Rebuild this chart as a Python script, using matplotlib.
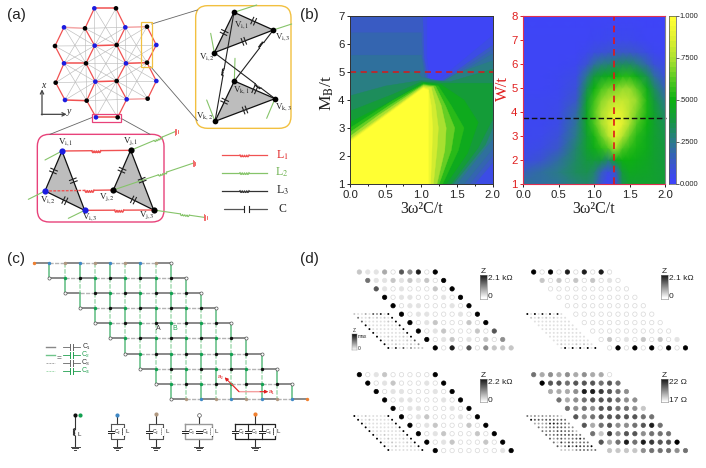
import numpy as np
import matplotlib
matplotlib.use("Agg")
import matplotlib.pyplot as plt
from matplotlib.colors import LinearSegmentedColormap
from matplotlib.patches import FancyBboxPatch, Polygon, Rectangle

plt.rcParams['font.family'] = ['Liberation Sans', 'DejaVu Sans']
plt.rcParams['mathtext.fontset'] = 'stix'
SERIF = 'Liberation Serif'

# ---------- panel (b) data ----------
# left map: region at or above each level, outlines
left_base = 0.01
left_levels = [
 (.05, [(0,1),(2,1),(2,6.3),(1.25,4.72),(1.12,4.72),(1.08,5.5),(1.08,7),(0,7)]),
 (.13, [(0,1),(1.75,1),(2,1.75),(2,5.95),(1.3,4.7),(1.1,4.7),(1.04,5.5),(1.02,7),(0,7)]),
 (.17, [(0,1),(1.68,1),(2,2.0),(2,5.8),(1.33,4.69),(1.08,4.7),(1.02,5.5),(1.0,6.4),(0,6.4)]),
 (.21, [(0,1),(1.6,1),(2,2.25),(2,5.65),(1.35,4.68),(1.06,4.7),(1,5.6),(0,5.6)]),
 (.26, [(0,1),(1.5,1),(2,2.6),(2,5.4),(1.5,4.95),(1.3,4.65),(1.0,4.82),(.95,5),(0,5)]),
 (.33, [(0,1),(1.45,1),(1.9,2.4),(2,3.0),(2,5.1),(1.4,4.65),(1,4.7),(.5,4.5),(0,4.15)]),
 (.40, [(0,1),(1.42,1),(1.8,2.3),(2,3.3),(2,4.6),(1.3,4.6),(1,4.65),(.6,4.2),(0,3.6)]),
 (.47, [(0,1),(1.35,1),(1.65,2.1),(1.8,3.2),(1.6,4.0),(1.28,4.55),(1.03,4.62),(.5,3.85),(0,3.2)]),
 (.55, [(0,1),(1.3,1),(1.52,2.2),(1.6,3.0),(1.42,3.8),(1.24,4.5),(1.03,4.58),(.6,3.98),(0,3.0)]),
 (.65, [(0,1),(1.25,1),(1.42,2.2),(1.47,3.0),(1.34,3.8),(1.2,4.5),(1.03,4.55),(.55,3.8),(0,2.85)]),
 (.75, [(0,1),(1.22,1),(1.33,2.2),(1.35,3.0),(1.28,3.8),(1.17,4.48),(1.03,4.52),(.4,3.45),(0,2.7)]),
 (.85, [(0,1),(1.17,1),(1.22,2.2),(1.24,3),(1.2,3.8),(1.14,4.45),(1.03,4.48),(.3,3.15),(0,2.6)]),
 (.93, [(0,1),(1.13,1),(1.15,2.2),(1.16,3),(1.14,3.8),(1.1,4.4),(1.03,4.45),(.3,3.1),(0,2.55)]),
 (1.0, [(0,1),(1.1,1),(1.1,4.35),(1.03,4.42),(0,2.5)]),
]
right_x = [0, .25, .5, .75, .9, 1.0, 1.1, 1.2, 1.3, 1.4, 1.5, 1.6, 1.75, 1.85, 2]
right_y = [1, 1.5, 2, 2.5, 3, 3.5, 4, 4.5, 5, 5.5, 6, 6.5, 7, 8]
right_z = [
 [.22, .2, .22, .28, .3, .25, .1, 0, .08, .35, .42, .42, .42, .42, .4],
 [.15, .2, .25, .33, .35, .3, .15, .05, .12, .4, .46, .45, .44, .42, .4],
 [.05, .1, .2, .32, .38, .4, .38, .3, .45, .5, .5, .48, .45, .42, .38],
 [.03, .05, .12, .3, .42, .48, .55, .62, .75, .62, .56, .52, .47, .42, .38],
 [.02, .03, .08, .25, .42, .52, .65, .78, .9, .78, .65, .55, .47, .42, .36],
 [.02, .02, .05, .22, .45, .6, .74, .85, .95, .88, .75, .62, .5, .42, .34],
 [.02, .02, .04, .18, .45, .62, .75, .83, .9, .87, .78, .68, .52, .42, .3],
 [.02, .02, .03, .12, .42, .58, .7, .76, .8, .82, .78, .72, .52, .38, .24],
 [.01, .01, .02, .08, .34, .5, .6, .66, .68, .72, .72, .64, .47, .32, .16],
 [.01, .01, .02, .05, .24, .38, .44, .48, .5, .54, .54, .48, .34, .2, .08],
 [.01, .01, .01, .02, .1, .2, .26, .28, .3, .32, .32, .27, .17, .08, .04],
 [.01, .01, .01, .01, .03, .06, .08, .1, .12, .12, .12, .1, .05, .02, .01],
 [.01, .01, .01, .01, .01, .02, .02, .03, .03, .03, .03, .02, .01, .01, .01],
 [0, 0, 0, 0, 0, 0, 0, 0, 0, 0, 0, 0, 0, 0, 0],
]
cbar_ticks = [0, .25, .5, .75, 1.0]
cbar_labels = ['0.000', '.2500', '.5000', '.7500', '1.000']
left_yticks = [1, 2, 3, 4, 5, 6, 7]
right_yticks = [1, 2, 3, 4, 5, 6, 7, 8]
xticks_b = [0, .5, 1, 1.5, 2]

# ---------- panel (d) data: darkness 0 (open) .. 9 (black) ----------
d_tl = ["2113064809", "5112121209", "6101000209", "9011000109", "9011000109",
        "9011000109", "9012000209", "9012000206", "9012010204", "9080604222"]
d_tr = ["9090808080", "2020202010", "0000000000", "0000000000", "0000000000",
        "0000000000", "0000000000", "0000000000", "0201020201", "0909090909"]
d_bl = ["9012000009", "9012000109", "9011000109", "9011000109", "9011000109",
        "9012000109", "9012000209", "9012000209", "9012000209", "9000000019"]
d_br = ["5343434330", "9665666565", "3334887654", "5345666544", "5454665542",
        "6456666655", "6356445685", "5274664555", "6358587669", "2222455545"]
d_titles = ["2.1 kΩ", "2.1 kΩ", "2.2 kΩ", "22 Ω"]
d_lows = ["0", "0", "0", "17 Ω"]

# ---------- panel (c) lattice ----------
c_rows = 10
c_cols = 10

# ---------- panel (a) lattice ----------
hx = [283, 348, 255, 376, 192, 284, 350, 165, 192, 258, 378, 441, 441, 469, 167, 195, 260, 286, 350, 380, 443, 469, 288, 353]
hy = [25, 25, 85, 82, 82, 137, 135, 138, 190, 190, 190, 188, 80, 135, 248, 300, 302, 245, 243, 298, 296, 243, 352, 352]
hc = "bkkbbbkkbkbkkbkbkbkbkbbk"
hedges = [(0,1),(0,2),(1,3),(2,4),(3,12),(2,5),(3,6),(5,6),(4,7),(7,8),(8,9),(5,9),(6,10),(10,11),(11,13),
          (12,13),(8,14),(14,15),(15,16),(9,17),(17,18),(10,18),(16,17),(18,19),(19,20),(20,21),(11,21),
          (16,22),(19,23),(22,23)]

fig = plt.figure(figsize=(7.06, 4.68), dpi=100, facecolor='white')
W, H = 706., 468.

def axpx(x0, y0, x1, y1):
    return fig.add_axes([x0 / W, 1 - y1 / H, (x1 - x0) / W, (y1 - y0) / H])

cmap = LinearSegmentedColormap.from_list('bgy', [
    (0, '#3e44f8'), (.12, '#3a58c8'), (.25, '#2a7c88'), (.38, '#15983f'), (.5, '#0cb012'),
    (.62, '#50c820'), (.75, '#a8e030'), (.88, '#e0f030'), (1, '#ffff33')])

# ---- (b) left
a1 = axpx(350, 16, 492.5, 184)
a1.set_facecolor(cmap(left_base))
for level, pts in left_levels:
    lx, ly = zip(*pts)
    a1.fill(lx, ly, color=cmap(level), lw=.3)
a1.axhline(5, color='#d81818', lw=1.1, ls=(0, (4, 3)))
a1.set_xlim(0, 2); a1.set_ylim(1, 7)
a1.set_xticks(xticks_b); a1.set_yticks(left_yticks)
a1.set_xticks([.25, .75, 1.25, 1.75], minor=True)
a1.set_xticklabels(['0.0', '0.5', '1.0', '1.5', '2.0'])
a1.tick_params(labelsize=8.2, length=2.5, width=.7, pad=1.5, colors='#222222')
a1.tick_params(which='minor', length=1.5, width=.6)
a1.set_xlabel('3ω²C/t', family=SERIF, fontsize=11.5, labelpad=1, color='#222222')
a1.set_ylabel(r'M$_{\mathrm{B}}$/t', family=SERIF, fontsize=12.5, color='#222222')
a1.yaxis.set_label_coords(-.1, .54)
for s in a1.spines.values():
    s.set_linewidth(.7); s.set_color('#333333')

# ---- (b) right
a2 = axpx(523, 16, 665, 184)
a2.pcolormesh(right_x, right_y, np.array(right_z), cmap=cmap, vmin=0, vmax=1, shading='gouraud')
a2.axvline(1.285, color='#e01818', lw=1.2, ls=(0, (4, 3)))
a2.plot([0, 2.02], [3.75, 3.75], color='#111111', lw=1, ls=(0, (4, 2)), clip_on=False)
a2.set_xlim(0, 2); a2.set_ylim(1, 8)
a2.set_xticks(xticks_b); a2.set_yticks(right_yticks)
a2.set_xticklabels(['0.0', '0.5', '1.0', '1.5', '2.0'])
a2.tick_params(labelsize=8.2, length=2.5, width=.7, pad=1.5, colors='#e02020')
a2.tick_params(axis='x', labelcolor='#222222', color='#222222')
a2.set_xlabel('3ω²C/t', family=SERIF, fontsize=11.5, labelpad=1, color='#222222')
a2.set_ylabel('W/t', family=SERIF, fontsize=12, color='#e02020')
a2.yaxis.set_label_coords(-.085, .57)
for s in a2.spines.values():
    s.set_linewidth(.8); s.set_color('#e03050')
a2.spines['right'].set_color('#888888')

# ---- colour bar
cb = axpx(668.5, 16, 676, 184)
lev = np.linspace(0, 1, 33)
edges = np.linspace(0, 1, 34)
cb.pcolormesh([0, 1], edges, lev.reshape(-1, 1), cmap=cmap, vmin=0, vmax=1)
cb.set_xlim(0, 1); cb.set_ylim(0, 1)
cb.set_xticks([]); cb.yaxis.tick_right()
cb.set_yticks(cbar_ticks); cb.set_yticklabels(cbar_labels)
cb.tick_params(labelsize=5.4, length=2, width=.5, pad=.5, colors='#222222')
for s in cb.spines.values():
    s.set_linewidth(.5); s.set_color('#555555')

# ---- overlay for schematics
ov = fig.add_axes([0, 0, 1, 1], zorder=-1)
ov.set_xlim(0, W); ov.set_ylim(H, 0); ov.axis('off')

RED, GREEN, BLUE, PINK = '#f05252', '#86c46a', '#1c1ce0', '#e8427a'

def wire(p, q, color, lw=.8, coil=True, frac=.5, n=4, amp=2.0, ls='-', length=9.):
    p, q = np.array(p, float), np.array(q, float)
    d = q - p; L = np.hypot(*d); u = d / L; v = np.array([-u[1], u[0]])
    if not coil:
        ov.plot(*zip(p, q), color=color, lw=lw, ls=ls, solid_capstyle='round')
        return
    c = p + d * frac
    a, b = c - u * length / 2, c + u * length / 2
    ov.plot(*zip(p, a), color=color, lw=lw, ls=ls)
    ov.plot(*zip(b, q), color=color, lw=lw)
    t = np.linspace(0, 1, 40)
    pts = a[None] + np.outer(t * length, u) + np.outer(np.abs(np.sin(t * n * np.pi)) * amp, v)
    ov.plot(pts[:, 0], pts[:, 1], color=color, lw=lw)

def cap(p, q, color='#222222', lw=.8, half=3.5, gap=1.5, frac=.5):
    p, q = np.array(p, float), np.array(q, float)
    d = q - p; u = d / np.hypot(*d); v = np.array([-u[1], u[0]])
    c = p + d * frac
    for s in (-1, 1):
        m = c + s * gap * u
        ov.plot(*zip(m - v * half, m + v * half), color=color, lw=lw)

def ground(x, y, w=4.5, color='#444444', lw=.7):
    for i, f in enumerate((1, .65, .3)):
        ov.plot([x - w * f, x + w * f], [y + i * 1.6] * 2, color=color, lw=lw)

def Z(x, y):            # panel a zoom coordinates
    return (x / 3., y / 3.)

def txt(x, y, s, size=7, color='#222222', family=None, **kw):
    kw.setdefault('ha', 'center'); kw.setdefault('va', 'center')
    ov.text(x, y, s, fontsize=size, color=color, family=family, **kw)

# panel letters
txt(16, 15, '(a)', 11)
txt(309, 15, '(b)', 11)
txt(16, 259, '(c)', 11)
txt(309, 259, '(d)', 11)

# ---- (a) honeycomb
vx, vy = np.array(hx) / 3., np.array(hy) / 3.
for i in range(len(hx)):
    for j in range(i + 1, len(hx)):
        dist = np.hypot(hx[i] - hx[j], hy[i] - hy[j])
        mid = np.hypot((hx[i] + hx[j]) / 2 - 317, (hy[i] + hy[j]) / 2 - 190)
        if 90 < dist < 132 and mid < 130:
            ov.plot([vx[i], vx[j]], [vy[i], vy[j]], color='#bcbcbc', lw=.45, zorder=1)
for i, j in hedges:
    horiz = abs(hy[i] - hy[j]) < 8
    col = '#f4a8a8' if (i, j) in [(3, 12), (2, 4), (19, 20)] else RED
    ov.plot([vx[i], vx[j]], [vy[i], vy[j]], color=col, lw=.9 if not horiz else 1.1, zorder=2)
ov.scatter(vx, vy, s=11, c=[BLUE if c == 'b' else '#000000' for c in hc], zorder=3, linewidths=0)

# selection boxes and leaders
ov.add_patch(Rectangle(Z(424, 67), 31 / 3, 133 / 3, fc='none', ec='#f2c040', lw=.9, zorder=4))
ov.add_patch(Rectangle(Z(275, 342), 88 / 3, 23 / 3, fc='none', ec=PINK, lw=.9, zorder=4))
for p, q in [((455, 72), (592, 30)), ((452, 200), (592, 362)), ((275, 353), (150, 403)), ((363, 355), (450, 403))]:
    ov.plot(*zip(Z(*p), Z(*q)), color='#666666', lw=.6)

# x-y axes
ov.annotate('', xy=Z(126, 268), xytext=Z(126, 345), arrowprops=dict(arrowstyle='->', color='#444444', lw=.9, mutation_scale=6, shrinkA=0, shrinkB=0))
ov.annotate('', xy=Z(200, 343), xytext=Z(124, 343), arrowprops=dict(arrowstyle='->', color='#444444', lw=.9, mutation_scale=6, shrinkA=0, shrinkB=0))
txt(*Z(129, 258), 'x', 7, style='italic', family=SERIF)
txt(*Z(206, 336), 'y', 7, style='italic', family=SERIF)

# yellow inset
ov.add_patch(FancyBboxPatch(Z(587 + 36, 17 + 36), (286 - 72) / 3, (368 - 72) / 3, boxstyle='round,pad=12,rounding_size=12', fc='white', ec='#f2c040', lw=1.0))
tri_top = [(702, 37), (820, 90), (643, 158)]
tri_bot = [(703, 243), (825, 296), (645, 364)]
for p, q in [((702, 37), (770, 15)), ((820, 90), (875, 72)), ((643, 158), (632, 100)),
             ((703, 243), (705, 175)), ((825, 296), (800, 355)), ((645, 364), (620, 300))]:
    wire(Z(*p), Z(*q), GREEN, coil=False, lw=.8)
for tri in (tri_top, tri_bot):
    ov.add_patch(Polygon([Z(*p) for p in tri], closed=True, fc='#bdbdbd', ec='#111111', lw=.9))
    for a, b in [(0, 1), (1, 2), (2, 0)]:
        cap(Z(*tri[a]), Z(*tri[b]))
wire(Z(702, 37), Z(645, 364), '#222222', frac=.55, amp=1.6, length=7)
wire(Z(820, 90), Z(703, 243), '#222222', frac=.3, amp=1.6, length=7)
wire(Z(643, 158), Z(825, 296), '#222222', frac=.72, amp=1.6, length=7)
ptsx, ptsy = zip(*[Z(*p) for p in tri_top + tri_bot])
ov.scatter(ptsx, ptsy, s=17, c='k', zorder=5, linewidths=0)
for x, y, s in [(725, 75, r'V$_{\mathrm{i,1}}$'), (848, 112, r'V$_{\mathrm{i,3}}$'), (620, 172, r'V$_{\mathrm{i,2}}$'),
                (725, 272, r'V$_{\mathrm{k,1}}$'), (852, 322, r'V$_{\mathrm{k,3}}$'), (615, 348, r'V$_{\mathrm{k,2}}$')]:
    txt(*Z(x, y), s, 6.5, family=SERIF, zorder=6)

# pink inset
ov.add_patch(FancyBboxPatch(Z(112 + 36, 403 + 36), (380 - 72) / 3, (263 - 72) / 3, boxstyle='round,pad=12,rounding_size=12', fc='white', ec=PINK, lw=1.0))
tri_i = [(186, 453), (135, 573), (254, 631)]
tri_j = [(392, 451), (340, 570), (461, 630)]
for p, q, c, gr in [((186, 453), (135, 480), False, False), ((135, 573), (85, 598), False, False), ((254, 631), (205, 655), False, False),
                    ((392, 451), (525, 395), True, True), ((340, 570), (578, 490), True, True), ((461, 630), (612, 652), True, True)]:
    wire(Z(*p), Z(*q), GREEN, coil=c, frac=.62, lw=.8, amp=1.6)
    if gr:
        ox, oy = Z(*q)
        for k, h in enumerate((3, 2.2, 1.4)):
            ov.plot([ox + k * 1.4, ox + k * 1.4], [oy - h, oy + h], color=RED, lw=.6)
for tri in (tri_i, tri_j):
    ov.add_patch(Polygon([Z(*p) for p in tri], closed=True, fc='#bdbdbd', ec='#111111', lw=.9))
    for a, b in [(0, 1), (1, 2), (2, 0)]:
        cap(Z(*tri[a]), Z(*tri[b]))
wire(Z(186, 453), Z(392, 451), RED, lw=1.0)
wire(Z(135, 573), Z(340, 570), RED, lw=1.0, frac=.65, ls=(0, (2, 1)))
wire(Z(254, 631), Z(461, 630), RED, lw=1.0)
ov.scatter(*zip(*[Z(*p) for p in tri_i]), s=20, c=BLUE, zorder=5, linewidths=0)
ov.scatter(*zip(*[Z(*p) for p in tri_j]), s=20, c='k', zorder=5, linewidths=0)
for x, y, s in [(198, 428, r'V$_{\mathrm{i,1}}$'), (393, 422, r'V$_{\mathrm{j,1}}$'), (143, 600, r'V$_{\mathrm{i,2}}$'),
                (320, 592, r'V$_{\mathrm{j,2}}$'), (268, 652, r'V$_{\mathrm{i,3}}$'), (440, 645, r'V$_{\mathrm{j,3}}$')]:
    txt(*Z(x, y), s, 6.5, family=SERIF, zorder=6)

# (a) legend
for y, col, lab, lc in [(465, RED, r'L$_{1}$', '#e02020'), (518, GREEN, r'L$_{2}$', '#6ab04c'), (572, '#333333', r'L$_{3}$', '#222222')]:
    wire(Z(667, y), Z(800, y), col, lw=.9, amp=1.8)
    txt(*Z(846, y), lab, 8.5, color=lc, family=SERIF)
wire(Z(672, 627), Z(800, 627), '#555555', coil=False, lw=.9)
ov.add_patch(Rectangle(Z(731, 617), 18 / 3, 20 / 3, fc='white', ec='none', zorder=3))
for xx in (733, 747):
    ov.plot(*zip(Z(xx, 617), Z(xx, 637)), color='#222222', lw=.8, zorder=4)
txt(*Z(846, 627), 'C', 8.5, family=SERIF)

# ---- (c) lattice
def C(x, y):
    return (x / 3., 240 + y / 3.)
sx, sy, x0c, y0c = 45.45 / 3, 45.45 / 3, 103 / 3., 240 + 68 / 3.
def node_xy(r, j):
    return x0c + (r + j) * sx, y0c + r * sy
for r in range(c_rows):
    for j in range(c_cols - 1):
        p, q = node_xy(r, j), node_xy(r, j + 1)
        if j % 2 == 0:
            ov.plot(*zip(p, q), color='#6a6a6a', lw=1.1, zorder=2)
        else:
            ov.plot(*zip(p, q), color='#b4b4b4', lw=1.0, ls=(0, (3, 1)), zorder=2)
for r in range(c_rows - 1):
    for j in range(1, c_cols):
        p, q = node_xy(r, j), node_xy(r + 1, j - 1)
        solid = j % 2 == 1
        ov.plot(*zip(p, q), color='#5cbc80' if solid else '#a6dcb4', lw=1.1, ls='-' if solid else (0, (3, 1)), zorder=2)
for r in range(c_rows):
    for j in range(c_cols):
        x, y = node_xy(r, j)
        if r == 0:
            col = '#f08030' if j == 0 else ('#3f88c5' if j % 2 == 1 else '#b09880')
            col = 'open' if j == 9 else col
        elif r == c_rows - 1:
            col = 'open' if j == 0 else ('#f08030' if j == 9 else ('#b09880' if j % 2 == 1 else '#3f88c5'))
        else:
            col = 'open' if j in (0, 9) else ('#12a050' if j % 2 == 1 else '#111111')
        if (r, j) == (2, 1):
            continue
        if col == 'open':
            ov.scatter([x], [y], s=5, fc='white', ec='#555555', lw=.5, zorder=3)
        else:
            ov.scatter([x], [y], s=6, c=col, linewidths=0, zorder=3)
txt(*C(476, 264), 'A', 5, color='#333333')
txt(*C(524, 264), 'B', 5, color='#22a050')
ov.plot(*zip(C(695, 432), C(717, 455), C(795, 455)), color='#f4a0a0', lw=1.0, zorder=4)
ov.annotate('', xy=C(805, 455), xytext=C(780, 455), arrowprops=dict(arrowstyle='-|>', color='#e02020', lw=.7, mutation_scale=5, shrinkA=0, shrinkB=0), zorder=5)
ov.annotate('', xy=C(674, 412), xytext=C(717, 455), arrowprops=dict(arrowstyle='-|>', color='#e02020', lw=.7, mutation_scale=5, shrinkA=0, shrinkB=0), zorder=5)
txt(*C(661, 410), 'a₂', 4.5, color='#e02020')
txt(*C(814, 455), 'a₁', 4.5, color='#e02020')
# (c) legend
for y, col, ls, lw, lab, lc in [(320, '#888888', '-', 1.0, 'C₁', '#333333'), (344, '#6fc48a', '-', 1.0, 'C₂', '#22a050'),
                                 (368, '#aaaaaa', (0, (2, 1)), .7, 'C₃', '#333333'), (392, '#a8dcb4', (0, (2, 1)), .7, 'C₄', '#22a050')]:
    ov.plot(*zip(C(137, y), C(165, y)), color=col, lw=lw, ls=ls)
    c2 = '#22a050' if lc != '#333333' else '#666666'
    ov.plot(*zip(C(190, y), C(240, y)), color=c2, lw=.6)
    ov.add_patch(Rectangle(C(209, y - 8), 10 / 3, 16 / 3, fc='white', ec='none', zorder=3))
    for xx in (209, 219):
        ov.plot(*zip(C(xx, y - 9), C(xx, y + 9)), color=c2, lw=.7, zorder=4)
    txt(*C(258, y), lab, 5, color=lc)
txt(*C(178, 356), '=', 6, color='#444444')

# (c) unit circuits
def circuit(xc, top, node, box, caps, labels, ec='#555555', blw=.8):
    x, y = C(xc, top)
    if box is None:
        wire(C(xc, top), C(xc, 618), '#333333', lw=.8, amp=1.6, length=7, frac=.55)
        txt(*C(xc + 14, 582), 'L', 4.5)
    else:
        bx0, bx1 = box
        ov.plot(*zip(C(xc, top), C(xc, 552)), color='#333333', lw=.8)
        ov.plot(*zip(C(xc, 597), C(xc, 618)), color='#333333', lw=.8)
        ov.plot(*zip(C(bx0, 552), C(bx1, 552), C(bx1, 597), C(bx0, 597), C(bx0, 552)), color=ec, lw=blw)
        ov.add_patch(Rectangle(C(bx1 - 3, 563), 6 / 3, 24 / 3, fc='white', ec='none', zorder=3))
        wire(C(bx1, 563), C(bx1, 587), '#333333', lw=.8, amp=1.4, length=7)
        txt(*C(bx1 + 11, 575), 'L', 4.5)
        for cx, lb in zip(caps, labels):
            ov.add_patch(Rectangle(C(cx - 4, 572), 8 / 3, 6 / 3, fc='white', ec='none', zorder=3))
            ov.plot(*zip(C(cx - 9, 572), C(cx + 9, 572)), color='#222222', lw=.7, zorder=4)
            ov.plot(*zip(C(cx - 9, 578), C(cx + 9, 578)), color='#222222', lw=.7, zorder=4)
            txt(*C(cx + 20, 575), lb, 3.6, zorder=4)
    gx, gy = C(xc, 620)
    ground(gx, gy)
    if node == 'open':
        ov.scatter([x], [y], s=7, fc='white', ec='#555555', lw=.5, zorder=5)
    else:
        ov.scatter([x], [y], s=9, c=node, linewidths=0, zorder=5)
circuit(225, 525, '#111111', None, [], [])
ov.scatter(*C(240, 525), s=9, c='#12a050', linewidths=0, zorder=5)
circuit(351, 525, '#3f88c5', (332, 372), [332], ['C₂'])
circuit(467, 523, '#b09880', (447, 490), [447], ['C₂'])
circuit(596, 525, 'open', (556, 637), [556, 596], ['C₃', 'C₄'], ec='#999999', blw=1.0)
circuit(766, 522, '#f08030', (705, 825), [705, 745, 785], ['C₂', 'C₃', 'C₄'], ec='#222222', blw=.9)
for xx in (745, 785):
    ov.plot(*zip(C(xx, 552), C(xx, 597)), color='#222222', lw=.8, zorder=2)

# ---- (d) dot lattices
def D(x, y):
    return (300 + x / 3., 240 + y / 3.)
dot_x0 = [178, 701, 178, 701]
dot_y0 = [96, 96, 404, 404]
ins_x0 = [163, 682, 163, 682]
ins_y0 = [222, 222, 528, 528]
for k, mat in enumerate([d_tl, d_tr, d_bl, d_br]):
    xs, ys, cs, ec = [], [], [], []
    ix, iy, ic = [], [], []
    for r, row in enumerate(mat):
        for j, ch in enumerate(row):
            v = int(ch) / 9.
            x, y = D(dot_x0[k] + 25.3 * (r + j), dot_y0[k] + 25.3 * r)
            xs.append(x); ys.append(y); g = 1 - v
            cs.append((g, g, g)); ec.append('#d8d8d8' if ch == '0' else (g, g, g))
            x, y = D(ins_x0[k] + 11.33 * (r + j), ins_y0[k] + 11.33 * r)
            ix.append(x); iy.append(y); g = 1 - max(v, .12)
            ic.append((g, g, g))
    ov.scatter(xs, ys, s=10, c=cs, edgecolors=ec, linewidths=.5, zorder=3)
    ov.scatter(ix, iy, s=2, c=ic, linewidths=0, zorder=3)

# (d) colour bars
grad = np.linspace(0, 1, 64).reshape(-1, 1)
bar_x = [540, 1083, 540, 1083]
bar_y = [105, 105, 416, 416]
for k in range(4):
    x0, y0 = D(bar_x[k], bar_y[k])
    cax = axpx(x0, y0, x0 + 6.5, y0 + 23.5)
    cax.imshow(grad, cmap='gray', aspect='auto', vmin=-.05, vmax=1)
    cax.set_xticks([]); cax.set_yticks([])
    for s in cax.spines.values():
        s.set_linewidth(.4); s.set_color('#888888')
    txt(x0 + 3.2, y0 - 3.5, 'Z', 6)
    txt(x0 + 8, y0 + 4, d_titles[k], 6, ha='left')
    txt(x0 + 8, y0 + 22, d_lows[k], 6, ha='left')
# (d) small colour bar
x0, y0 = D(155, 282)
cax = axpx(x0, y0, x0 + 5, y0 + 16)
cax.imshow(grad, cmap='gray', aspect='auto', vmin=-.05, vmax=1)
cax.set_xticks([]); cax.set_yticks([])
for s in cax.spines.values():
    s.set_linewidth(.3); s.set_color('#888888')
txt(x0 + 2.5, y0 - 3, 'Z', 3.5)
txt(x0 + 6, y0 + 2, 'max', 3.5, ha='left')
txt(x0 + 6, y0 + 15, '0', 3.5, ha='left')

fig.savefig('out.png', dpi=100)
